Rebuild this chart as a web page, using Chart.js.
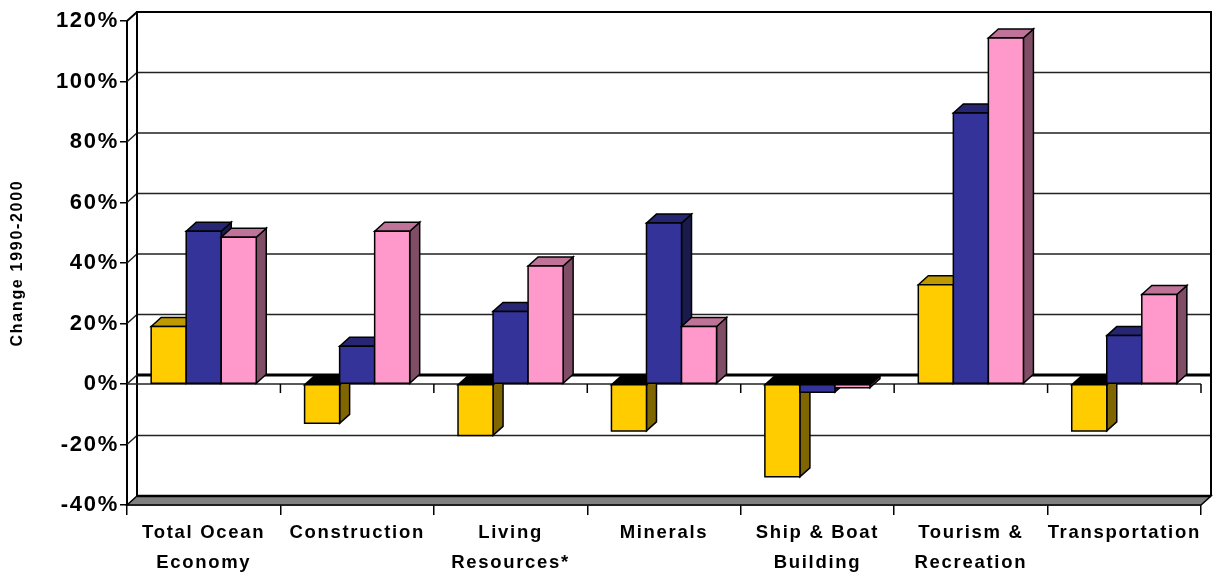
<!DOCTYPE html>
<html>
<head>
<meta charset="utf-8">
<script src="https://cdn.jsdelivr.net/npm/chart.js@4"></script>
<style>
  html, body { margin: 0; padding: 0; background: #fff; }
  #wrap { width: 1214px; height: 575px; }
</style>
</head>
<body>
<div id="wrap"><canvas id="chart"></canvas></div>
<script>
// ---------------- DATA ----------------
const categories = [
  ['Total Ocean', 'Economy'],
  ['Construction'],
  ['Living', 'Resources*'],
  ['Minerals'],
  ['Ship & Boat', 'Building'],
  ['Tourism &', 'Recreation'],
  ['Transportation'],
];
const series1 = [19, -13, -17, -15.5, -30.7, 32.8, -15.5];
const series2 = [50.5, 12.5, 24, 53.2, -2.7, 89.6, 16];
const series3 = [48.5, 50.5, 39, 19, -1.2, 114.4, 29.6];
const yTickValues = [-40, -20, 0, 20, 40, 60, 80, 100, 120];
const yTitle = 'Change 1990-2000';

const faceColors = ['#FFCC00', '#333399', '#FF99CC'];
const topColors = ['#BF9900', '#262673', '#BF7399'];
const sideColors = ['#806600', '#1A1A4D', '#804D66'];

const DX = 10;  // depth offset
const DY = -9;
const FONT = "'Liberation Sans', Arial, sans-serif";

// ---------------- HELPERS ----------------
function path(ctx, pts, close) {
  ctx.beginPath();
  ctx.moveTo(pts[0][0], pts[0][1]);
  for (let i = 1; i < pts.length; i++) ctx.lineTo(pts[i][0], pts[i][1]);
  if (close) ctx.closePath();
}
function stroke(ctx, pts) { path(ctx, pts, false); ctx.stroke(); }
function face(ctx, pts, fill) {
  path(ctx, pts, true);
  ctx.fillStyle = fill;
  ctx.fill();
  ctx.stroke();
}

// ---------------- 3D PLUGIN ----------------
const box3d = {
  id: 'box3d',
  beforeDraw(chart) {
    chart.ctx.letterSpacing = '1.7px';
  },
  beforeDatasetsDraw(chart) {
    const { ctx, chartArea: a, scales: { x, y } } = chart;
    const y0 = y.getPixelForValue(0);
    ctx.save();
    ctx.letterSpacing = '0px';
    ctx.lineJoin = 'miter';

    // back wall grid + side wall
    ctx.strokeStyle = '#222';
    ctx.lineWidth = 1.5;
    y.ticks.forEach((t) => {
      if (t.value === 0 || t.value === y.min || t.value === y.max) return;
      const py = y.getPixelForValue(t.value);
      stroke(ctx, [[a.left, py], [a.left + DX, py + DY], [a.right + DX, py + DY]]);
    });

    // wall frame
    ctx.strokeStyle = '#000';
    ctx.lineWidth = 2;
    stroke(ctx, [[a.left + DX, a.bottom + DY], [a.left + DX, a.top + DY], [a.right + DX, a.top + DY], [a.right + DX, a.bottom + DY]]);
    stroke(ctx, [[a.left, a.top], [a.left + DX, a.top + DY]]);

    // floor
    ctx.lineWidth = 1.5;
    face(ctx, [[a.left, a.bottom], [a.left + DX, a.bottom + DY], [a.right + DX, a.bottom + DY], [a.right, a.bottom]], '#808080');
    ctx.lineWidth = 2.5;
    stroke(ctx, [[a.left + DX, a.bottom + DY], [a.right + DX, a.bottom + DY]]);

    // zero plane
    ctx.lineWidth = 1.5;
    ctx.strokeStyle = '#222';
    stroke(ctx, [[a.left, y0], [a.right, y0]]);
    stroke(ctx, [[a.left, y0], [a.left + DX, y0 + DY]]);
    ctx.strokeStyle = '#000';
    ctx.lineWidth = 3;
    stroke(ctx, [[a.left + DX, y0 + DY], [a.right + DX, y0 + DY]]);
    ctx.lineWidth = 1.5;
    for (let i = 0; i <= categories.length; i++) {
      let bx;
      if (i === 0) bx = a.left;
      else if (i === categories.length) bx = a.right;
      else bx = (x.getPixelForValue(i - 1) + x.getPixelForValue(i)) / 2;
      stroke(ctx, [[bx, y0], [bx, y0 + 9]]);
    }

    // bars, category by category so nearer faces overlap correctly
    const metas = chart.data.datasets.map((_, d) => chart.getDatasetMeta(d));
    ctx.strokeStyle = '#000';
    ctx.lineWidth = 1.5;
    for (let i = 0; i < categories.length; i++) {
      metas.forEach((meta, d) => {
        const p = meta.data[i].getProps(['x', 'y', 'base', 'width'], true);
        const L = p.x - p.width / 2;
        const R = p.x + p.width / 2;
        const top = Math.min(p.y, p.base);
        const bot = Math.max(p.y, p.base);
        const neg = p.y > p.base;
        face(ctx, [[R, top], [R + DX, top + DY], [R + DX, bot + DY], [R, bot]], sideColors[d]);
        face(ctx, [[L, top], [L + DX, top + DY], [R + DX, top + DY], [R, top]], neg ? '#000' : topColors[d]);
        face(ctx, [[L, top], [R, top], [R, bot], [L, bot]], faceColors[d]);
      });
    }
    ctx.restore();
    return false;
  },
};

// ---------------- CHART ----------------
new Chart(document.getElementById('chart'), {
  type: 'bar',
  data: {
    labels: categories,
    datasets: [series1, series2, series3].map((s, d) => ({
      data: s,
      backgroundColor: faceColors[d],
      borderColor: '#000',
      borderWidth: 1.5,
      categoryPercentage: 0.685,
      barPercentage: 1,
    })),
  },
  options: {
    responsive: true,
    maintainAspectRatio: false,
    animation: false,
    layout: { padding: { left: 0, right: 13, top: 21, bottom: 0 } },
    plugins: { legend: { display: false }, tooltip: { enabled: false } },
    scales: {
      x: {
        grid: { offset: true, drawOnChartArea: false, tickLength: 10, color: '#000', lineWidth: 1.5 },
        border: { display: true, color: '#000', width: 1.5 },
        ticks: {
          color: '#000',
          maxRotation: 0,
          minRotation: 0,
          autoSkip: false,
          padding: 3,
          font: { family: FONT, size: 18.5, weight: 'bold', lineHeight: 1.63 },
        },
        afterFit: (scale) => { scale.height = 70; },
      },
      y: {
        min: -40,
        max: 120,
        afterBuildTicks: (scale) => { scale.ticks = yTickValues.map((v) => ({ value: v })); },
        grid: { drawOnChartArea: false, tickLength: 7, color: '#000', lineWidth: 1.5 },
        border: { display: true, color: '#000', width: 2 },
        ticks: {
          color: '#000',
          padding: 1,
          callback: (v) => v + '%',
          font: { family: FONT, size: 22, weight: 'bold' },
        },
        title: {
          display: true,
          text: yTitle,
          color: '#000',
          padding: { top: 8, bottom: 0 },
          font: { family: FONT, size: 16, weight: 'bold', lineHeight: 1.2 },
        },
        afterFit: (scale) => { scale.width = 127; },
      },
    },
  },
  plugins: [box3d],
});
</script>
</body>
</html>
